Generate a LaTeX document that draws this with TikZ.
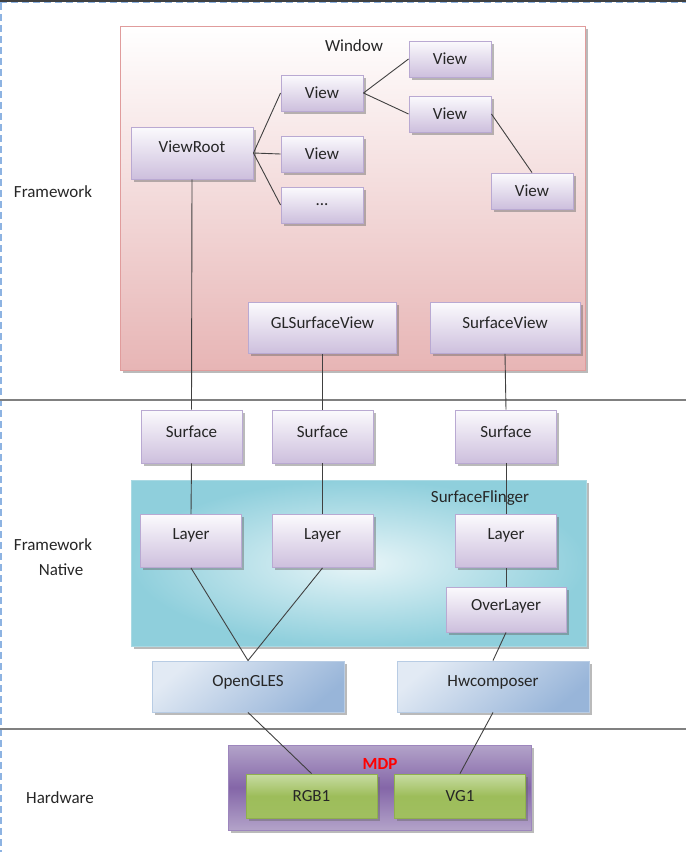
\documentclass[tikz,border=0pt]{standalone}
\usepackage{fontspec}
\setmainfont{Carlito}
\usetikzlibrary{shadows}
\definecolor{vborder}{HTML}{B9A9D2}
\definecolor{vtop}{HTML}{FBFAFD}
\definecolor{vbot}{HTML}{CDBFDD}
\definecolor{wborder}{HTML}{E09C9C}
\definecolor{wtop}{HTML}{FFFFFF}
\definecolor{wbot}{HTML}{E7B5B5}
\definecolor{sfin}{HTML}{E8F5F8}
\definecolor{sfout}{HTML}{8FCFDC}
\definecolor{sfborder}{HTML}{A9D9E3}
\definecolor{btop}{HTML}{E2EAF4}
\definecolor{bbot}{HTML}{98B5D9}
\definecolor{bborder}{HTML}{B8CCE4}
\definecolor{mdplight}{HTML}{B3A3C9}
\definecolor{mdpdark}{HTML}{8466A8}
\definecolor{mdpborder}{HTML}{9D86BD}
\definecolor{gtop}{HTML}{C8DCA3}
\definecolor{gbot}{HTML}{9DBD5A}
\definecolor{gborder}{HTML}{8FB04D}
\definecolor{sep}{HTML}{808080}
\definecolor{dashblue}{HTML}{8DB3E2}
\begin{document}
\begin{tikzpicture}[x=1pt,y=-1pt,
  every node/.style={font=\fontsize{17}{19}\selectfont, text=black!85},
  shad/.style={drop shadow={shadow xshift=2.5pt,shadow yshift=-2.5pt,opacity=0.45,fill=black!60}},
  vbox/.style={draw=vborder,line width=0.9pt,top color=vtop,bottom color=vbot,shad,inner sep=0pt},
  bbox/.style={draw=bborder,line width=0.9pt,top color=btop,bottom color=bbot,shading angle=40,shad,inner sep=0pt,
     minimum width=192pt,minimum height=51pt},
  gbox/.style={draw=gborder,line width=0.9pt,top color=gtop,bottom color=gbot!92!gtop,middle color=gbot,shad,inner sep=0pt,
     minimum width=131pt,minimum height=44pt},
  vsmall/.style={vbox,minimum width=82pt,minimum height=36pt},
  vmid/.style={vbox,minimum width=101pt,minimum height=53pt},
  link/.style={draw=black!75,line width=0.9pt},
  seprule/.style={draw=sep,line width=1.6pt}
]
\useasboundingbox (0,0) rectangle (686,852);
% page borders
\draw[black!75,line width=2pt] (0,1) -- (686,1);
\draw[dashblue,line width=1.5pt,dash pattern=on 7pt off 4pt] (0,2.5) -- (686,2.5);
\draw[dashblue,line width=1.5pt,dash pattern=on 7pt off 4pt] (1.2,3) -- (1.2,852);
% separators
\draw[seprule] (0,400) -- (686,400);
\draw[seprule] (0,729) -- (686,729);
% layer labels
\node (lfw) at (53,192) {Framework};
\node (lfn1) at (53,545) {Framework};
\node (lfn2) at (61,570) {Native};
\node (lhw) at (60,798) {Hardware};
% Window container
\node[draw=wborder,line width=0.9pt,top color=wtop,bottom color=wbot,shad,
  minimum width=465pt,minimum height=344pt,inner sep=0pt] (win) at (352.5,198) {};
\node (wlabel) at (354,46) {Window};
% SurfaceFlinger container
\node[draw=sfborder,line width=0.9pt,inner color=sfin,outer color=sfout,shad,
  minimum width=455pt,minimum height=166pt,inner sep=0pt] (sf) at (358.5,563) {};
\node (sflabel) at (480,498) {SurfaceFlinger};
% MDP container
\node[draw=mdpborder,line width=0.9pt,top color=mdplight,bottom color=mdplight,middle color=mdpdark,shad,
  minimum width=303pt,minimum height=85pt,inner sep=0pt] (mdp) at (379.5,787.5) {};
\node[text=red,font=\fontsize{17}{19}\selectfont\bfseries] (mdplabel) at (380,764) {MDP};
% view tree
\node[vsmall] (va) at (450,59) {View};
\node[vsmall] (vm) at (322,93) {View};
\node[vsmall] (vb) at (450,114) {View};
\node[vbox,minimum width=122pt,minimum height=52pt] (vr) at (192,153) {};
\node (vrt) at (192,147) {ViewRoot};
\node[vsmall] (vc) at (322,154) {View};
\node[vsmall] (vd) at (322,205) {...};
\node[vsmall] (ve) at (532,191) {View};
\node[vbox,minimum width=148pt,minimum height=51pt] (gl) at (322.5,328) {};
\node (glt) at (322.5,323) {GLSurfaceView};
\node[vbox,minimum width=150pt,minimum height=51pt] (sv) at (505,328) {};
\node (svt) at (505,323) {SurfaceView};
% surfaces
\node[vmid] (s1) at (191.5,436.5) {};
\node (s1t) at (191.5,432) {Surface};
\node[vmid] (s2) at (322.5,436.5) {};
\node (s2t) at (322.5,432) {Surface};
\node[vmid] (s3) at (506,436.5) {};
\node (s3t) at (506,432) {Surface};
% layers
\node[vmid] (l1) at (191,541) {};
\node (l1t) at (191,535) {Layer};
\node[vmid] (l2) at (322.5,541) {};
\node (l2t) at (322.5,535) {Layer};
\node[vmid] (l3) at (506,541) {};
\node (l3t) at (506,535) {Layer};
\node[vbox,minimum width=120pt,minimum height=45pt] (ol) at (506,609.5) {};
\node (olt) at (506,606) {OverLayer};
% native libs
\node[bbox] (gles) at (248,686.5) {};
\node (glest) at (248,682) {OpenGLES};
\node[bbox] (hwc) at (493,686.5) {};
\node (hwct) at (493,682) {Hwcomposer};
% hardware
\node[gbox] (rgb) at (311.5,796) {RGB1};
\node[gbox] (vg) at (460,796) {VG1};
% connectors
\draw[link] (vr.east) -- (vm.west);
\draw[link] (vr.east) -- (vc.west);
\draw[link] (vr.east) -- (vd.west);
\draw[link] (vm.east) -- (va.west);
\draw[link] (vm.east) -- (vb.west);
\draw[link] (vb.east) -- (ve.north);
\draw[link] (vr.south) -- (s1.north);
\draw[link] (gl.south) -- (s2.north);
\draw[link] (sv.south) -- (s3.north);
\draw[link] (s1.south) -- (l1.north);
\draw[link] (s2.south) -- (l2.north);
\draw[link] (s3.south) -- (l3.north);
\draw[link] (l1.south) -- (gles.north);
\draw[link] (l2.south) -- (gles.north);
\draw[link] (l3.south) -- (ol.north);
\draw[link] (ol.south) -- (hwc.north);
\draw[link] (gles.south) -- (rgb.north);
\draw[link] (hwc.south) -- (vg.north);
\end{tikzpicture}
\end{document}
